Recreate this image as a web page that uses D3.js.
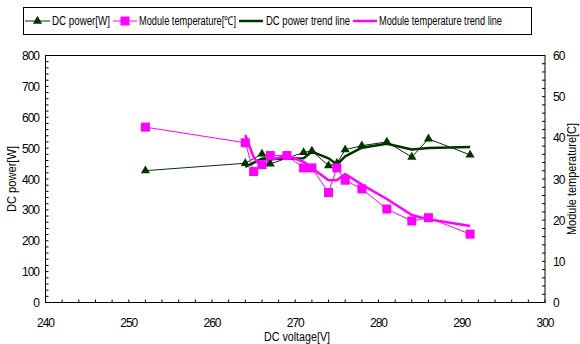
<!DOCTYPE html>
<html>
<head>
<meta charset="utf-8">
<script src="https://cdn.jsdelivr.net/npm/d3@7"></script>
<style>
  html, body { margin: 0; padding: 0; background: #fff; }
  svg { display: block; font-family: "Liberation Sans", Arial, sans-serif; }
</style>
</head>
<body>
<svg id="chart" width="580" height="344"></svg>
<script>
// DC power readings (left axis)
const powerVoltage = [252, 264, 266, 267, 271, 272, 274, 275, 276, 278, 281, 284, 286, 291];
const powerW       = [427, 451, 481, 449, 486, 491, 443, 451, 495, 508, 520, 471, 530, 478];

// Module temperature readings (right axis)
const tempVoltage = [252, 264, 265, 266, 267, 269, 271, 272, 274, 275, 276, 278, 281, 284, 286, 291];
const tempC       = [42.6, 38.8, 31.8, 33.5, 35.7, 35.7, 32.7, 32.7, 26.7, 32.7, 29.7, 27.6, 22.7, 19.8, 20.6, 16.6];

// Axis ticks
const xTicks = [240, 250, 260, 270, 280, 290, 300];
const powerTicks = [0, 100, 200, 300, 400, 500, 600, 700, 800];
const tempTicks = [0, 10, 20, 30, 40, 50, 60];

const legendLabels = ["DC power[W]", "Module temperature[\u2103]", "DC power trend line", "Module temperature trend line"];

const green = "#003300";
const pink = "#ff00ff";

const svg = d3.select("#chart");
const plot = { left: 45.5, right: 545, top: 55.5, bottom: 302.5 };

const x = d3.scaleLinear().domain([240, 300]).range([plot.left, plot.right]);
const yP = d3.scaleLinear().domain([0, 800]).range([plot.bottom, plot.top]);
const yT = d3.scaleLinear().domain([0, 60]).range([plot.bottom, plot.top]);

// Two-period moving average trendline
function movingAverage(xs, ys) {
  const out = [];
  for (let i = 1; i < xs.length; i++) out.push([xs[i], (ys[i - 1] + ys[i]) / 2]);
  return out;
}

const powerPts = powerVoltage.map((v, i) => [v, powerW[i]]);
const tempPts = tempVoltage.map((v, i) => [v, tempC[i]]);
const powerTrend = movingAverage(powerVoltage, powerW);
const tempTrend = movingAverage(tempVoltage, tempC);

function tickList(domain, step) { return d3.range(domain[0], domain[1] + step / 2, step); }

const g = svg.append("g");

// minor ticks, pointing into the plot
const minorX = tickList([240, 300], 2);
const minorP = tickList([0, 800], 20);
const minorT = tickList([0, 60], 2);

g.selectAll(".mx").data(minorX).join("line")
  .attr("x1", d => x(d)).attr("x2", d => x(d))
  .attr("y1", plot.bottom).attr("y2", plot.bottom - 3)
  .attr("stroke", "#000").attr("stroke-width", 1);
g.selectAll(".mp").data(minorP).join("line")
  .attr("x1", plot.left).attr("x2", plot.left + 3)
  .attr("y1", d => yP(d)).attr("y2", d => yP(d))
  .attr("stroke", "#000").attr("stroke-width", 1);
g.selectAll(".mt").data(minorT).join("line")
  .attr("x1", plot.right).attr("x2", plot.right - 3)
  .attr("y1", d => yT(d)).attr("y2", d => yT(d))
  .attr("stroke", "#000").attr("stroke-width", 1);

// frame
g.append("rect")
  .attr("x", plot.left).attr("y", plot.top)
  .attr("width", plot.right - plot.left).attr("height", plot.bottom - plot.top)
  .attr("fill", "none").attr("stroke", "#000").attr("stroke-width", 1);

// tick labels
const lblFont = 12;
g.selectAll(".xl").data(xTicks).join("text")
  .attr("x", d => x(d)).attr("y", 327)
  .attr("text-anchor", "middle").attr("font-size", lblFont)
  .attr("letter-spacing", -1)
  .text(d => d);
g.selectAll(".pl").data(powerTicks).join("text")
  .attr("x", 39).attr("y", d => yP(d) + 4.5)
  .attr("text-anchor", "end").attr("font-size", lblFont)
  .attr("letter-spacing", -1)
  .text(d => d);
g.selectAll(".tl").data(tempTicks).join("text")
  .attr("x", 553).attr("y", d => yT(d) + 4.5)
  .attr("text-anchor", "start").attr("font-size", lblFont)
  .attr("letter-spacing", -1)
  .text(d => d);

// axis titles
g.append("text").attr("x", 297).attr("y", 341)
  .attr("text-anchor", "middle").attr("font-size", 12)
  .attr("textLength", 66).attr("lengthAdjust", "spacingAndGlyphs").text("DC voltage[V]");
g.append("text")
  .attr("transform", `translate(16,${(plot.top + plot.bottom) / 2}) rotate(-90)`)
  .attr("text-anchor", "middle").attr("font-size", 12)
  .attr("textLength", 66).attr("lengthAdjust", "spacingAndGlyphs").text("DC power[W]");
g.append("text")
  .attr("transform", `translate(576,${(plot.top + plot.bottom) / 2}) rotate(-90)`)
  .attr("text-anchor", "middle").attr("font-size", 12)
  .attr("textLength", 112).attr("lengthAdjust", "spacingAndGlyphs").text("Module temperature[C]");

// series
const linePath = (ys) => d3.line().x(d => x(d[0])).y(d => ys(d[1]));

g.append("path").datum(powerPts).attr("d", linePath(yP))
  .attr("fill", "none").attr("stroke", green).attr("stroke-width", 1);
g.append("path").datum(tempPts).attr("d", linePath(yT))
  .attr("fill", "none").attr("stroke", pink).attr("stroke-width", 1);
g.append("path").datum(powerTrend).attr("d", linePath(yP))
  .attr("fill", "none").attr("stroke", green).attr("stroke-width", 2.5)
  .attr("stroke-linejoin", "round");
g.append("path").datum(tempTrend).attr("d", linePath(yT))
  .attr("fill", "none").attr("stroke", pink).attr("stroke-width", 2.5)
  .attr("stroke-linejoin", "round");

const tri = d3.symbol().type(d3.symbolTriangle).size(36);
g.selectAll(".tri").data(powerPts).join("path")
  .attr("d", tri)
  .attr("transform", d => `translate(${x(d[0])},${yP(d[1])})`)
  .attr("fill", green);

g.selectAll(".sq").data(tempPts).join("rect")
  .attr("x", d => x(d[0]) - 4.5).attr("y", d => yT(d[1]) - 4.5)
  .attr("width", 9).attr("height", 9)
  .attr("fill", pink);

// legend
const lg = svg.append("g");
lg.append("rect").attr("x", 23.5).attr("y", 7.5).attr("width", 508).attr("height", 27)
  .attr("fill", "#fff").attr("stroke", "#000").attr("stroke-width", 1);

const legendItems = [
  { x0: 25, x1: 50, color: green, width: 1, marker: "tri", tx: 52, tw: 58 },
  { x0: 113, x1: 137, color: pink, width: 1, marker: "sq", tx: 139, tw: 97 },
  { x0: 239, x1: 263, color: green, width: 2.5, marker: null, tx: 266, tw: 84 },
  { x0: 353, x1: 377, color: pink, width: 2.5, marker: null, tx: 379, tw: 123 }
];
const ly = 21;
legendItems.forEach((it, i) => {
  lg.append("line").attr("x1", it.x0).attr("x2", it.x1).attr("y1", ly).attr("y2", ly)
    .attr("stroke", it.color).attr("stroke-width", it.width);
  const cx = (it.x0 + it.x1) / 2;
  if (it.marker === "tri") {
    lg.append("path").attr("d", tri).attr("transform", `translate(${cx},${ly})`).attr("fill", green);
  } else if (it.marker === "sq") {
    lg.append("rect").attr("x", cx - 4.5).attr("y", ly - 4.5).attr("width", 9).attr("height", 9).attr("fill", pink);
  }
  lg.append("text").attr("x", it.tx).attr("y", ly + 4)
    .attr("font-size", 12)
    .attr("textLength", it.tw).attr("lengthAdjust", "spacingAndGlyphs")
    .text(legendLabels[i]);
});
</script>
</body>
</html>
